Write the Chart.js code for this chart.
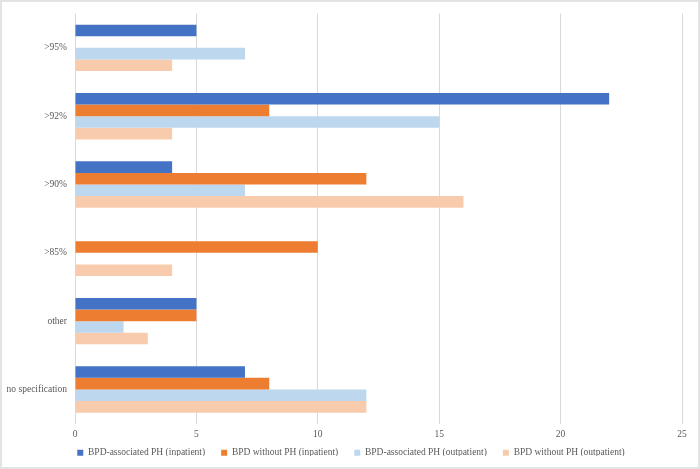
<!DOCTYPE html>
<html>
<head>
<meta charset="utf-8">
<script src="https://cdn.jsdelivr.net/npm/chart.js@4"></script>
<style>
  body { margin: 0; background: #fff; }
  #wrap { position: relative; width: 700px; height: 469px; }
  #frame { position: absolute; left: 0; top: 0; width: 700px; height: 469px; box-sizing: border-box; border: 2px solid #e3e3e3; pointer-events: none; }
</style>
</head>
<body>
<div id="wrap">
  <canvas id="chart" width="700" height="469"></canvas>
  <div id="frame"></div>
</div>
<script>
const categories = ['>95%', '>92%', '>90%', '>85%', 'other', 'no specification'];
const phInpatient = [5, 22, 4, 0, 5, 7];
const noPhInpatient = [0, 8, 12, 10, 5, 8];
const phOutpatient = [7, 15, 7, 0, 2, 12];
const noPhOutpatient = [4, 4, 16, 4, 3, 12];
const xTicks = [0, 5, 10, 15, 20, 25];

const serif = "'Liberation Serif', 'Times New Roman', serif";

// legend padding is wide horizontally, so pin its height and nudge it into place
const legendHeight = {
    id: 'legendHeight',
    beforeInit(chart) {
        const fit = chart.legend.fit;
        chart.legend.fit = function () {
            fit.call(this);
            this.height = 24;
        };
    },
    afterLayout(chart) {
        const lg = chart.legend;
        lg.top -= 13;
        lg.bottom -= 13;
        lg.left += 10;
        lg.right += 10;
    }
};

document.addEventListener('DOMContentLoaded', () => {
    const ctx = document.getElementById('chart').getContext('2d');

    new Chart(ctx, {
        type: 'bar',
        data: {
            labels: categories,
            datasets: [
                { label: 'BPD-associated PH (inpatient)', data: phInpatient, backgroundColor: '#4472c4' },
                { label: 'BPD without PH (inpatient)', data: noPhInpatient, backgroundColor: '#ed7d31' },
                { label: 'BPD-associated PH (outpatient)', data: phOutpatient, backgroundColor: '#bdd7ee' },
                { label: 'BPD without PH (outpatient)', data: noPhOutpatient, backgroundColor: '#f8cbad' }
            ]
        },
        plugins: [legendHeight],
        options: {
            indexAxis: 'y',
            responsive: false,
            animation: false,
            datasets: {
                bar: { categoryPercentage: 0.68, barPercentage: 1.0 }
            },
            layout: { padding: { top: 10, right: 18, left: 0, bottom: 0 } },
            plugins: {
                legend: {
                    position: 'bottom',
                    labels: {
                        boxWidth: 6,
                        boxHeight: 6,
                        padding: 16,
                        color: '#595959',
                        font: { family: serif, size: 9.5 }
                    }
                },
                tooltip: { enabled: false }
            },
            scales: {
                x: {
                    min: 0,
                    max: 25,
                    afterBuildTicks: (scale) => { scale.ticks = xTicks.map(v => ({ value: v })); },
                    grid: { color: '#d9d9d9', drawTicks: false },
                    border: { display: false },
                    ticks: { color: '#595959', padding: 5, font: { family: serif, size: 9.5 } }
                },
                y: {
                    grid: { display: false, drawTicks: false },
                    border: { display: false },
                    afterFit: (scale) => { scale.width = 75; },
                    ticks: { color: '#595959', padding: 8, font: { family: serif, size: 9.5 } }
                }
            }
        }
    });
});
</script>
</body>
</html>
